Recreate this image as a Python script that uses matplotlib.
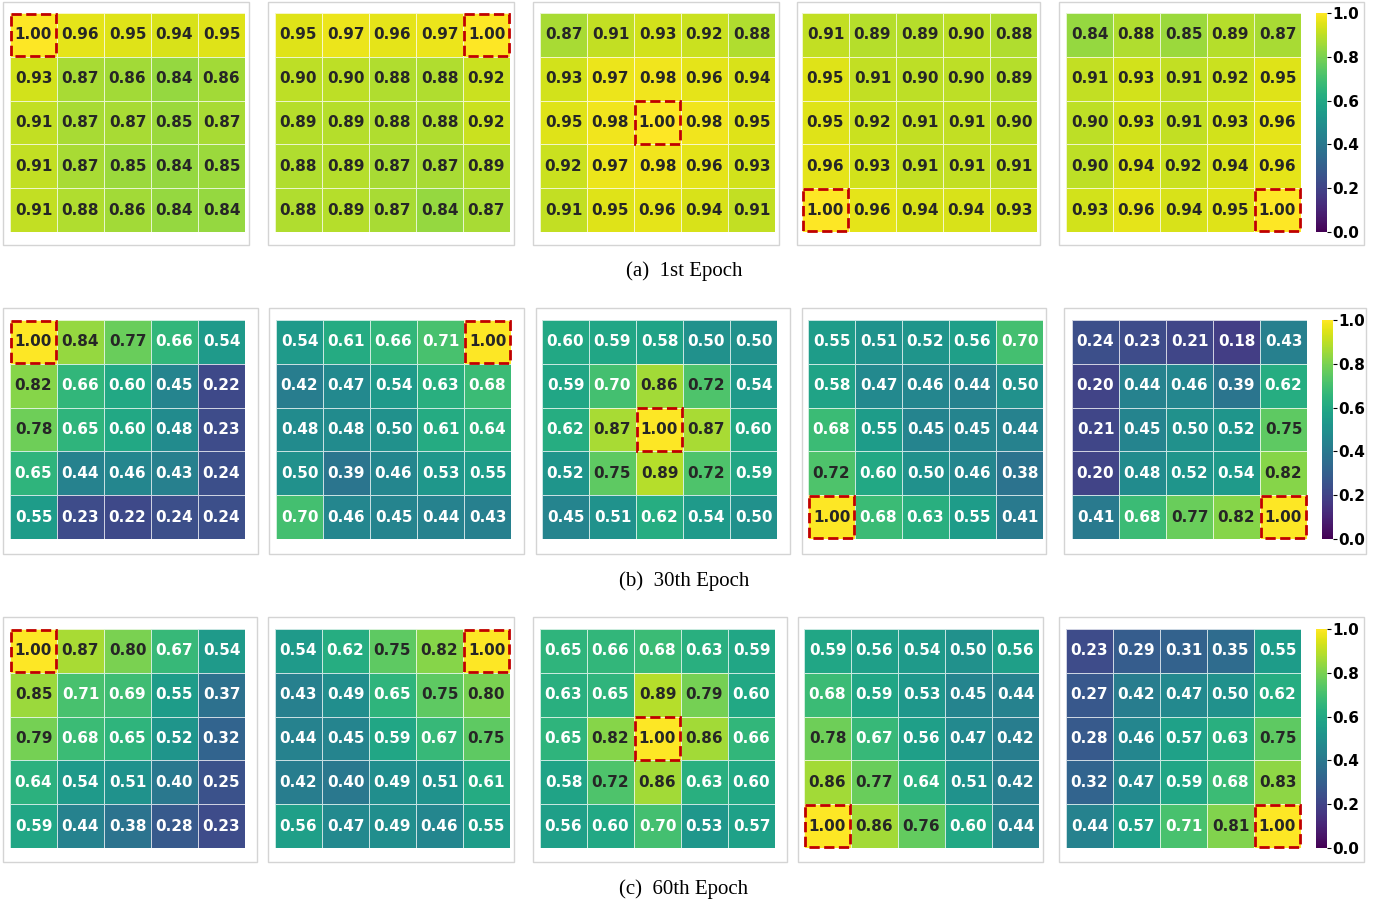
import matplotlib
matplotlib.use("Agg")
import matplotlib.pyplot as plt
import matplotlib.patches as mpatches
import numpy as np
import seaborn as sns

# similarity maps, 5 per epoch, 5x5 each
epoch1 = [
    [[1.00, 0.96, 0.95, 0.94, 0.95],
     [0.93, 0.87, 0.86, 0.84, 0.86],
     [0.91, 0.87, 0.87, 0.85, 0.87],
     [0.91, 0.87, 0.85, 0.84, 0.85],
     [0.91, 0.88, 0.86, 0.84, 0.84]],
    [[0.95, 0.97, 0.96, 0.97, 1.00],
     [0.90, 0.90, 0.88, 0.88, 0.92],
     [0.89, 0.89, 0.88, 0.88, 0.92],
     [0.88, 0.89, 0.87, 0.87, 0.89],
     [0.88, 0.89, 0.87, 0.84, 0.87]],
    [[0.87, 0.91, 0.93, 0.92, 0.88],
     [0.93, 0.97, 0.98, 0.96, 0.94],
     [0.95, 0.98, 1.00, 0.98, 0.95],
     [0.92, 0.97, 0.98, 0.96, 0.93],
     [0.91, 0.95, 0.96, 0.94, 0.91]],
    [[0.91, 0.89, 0.89, 0.90, 0.88],
     [0.95, 0.91, 0.90, 0.90, 0.89],
     [0.95, 0.92, 0.91, 0.91, 0.90],
     [0.96, 0.93, 0.91, 0.91, 0.91],
     [1.00, 0.96, 0.94, 0.94, 0.93]],
    [[0.84, 0.88, 0.85, 0.89, 0.87],
     [0.91, 0.93, 0.91, 0.92, 0.95],
     [0.90, 0.93, 0.91, 0.93, 0.96],
     [0.90, 0.94, 0.92, 0.94, 0.96],
     [0.93, 0.96, 0.94, 0.95, 1.00]],
]

epoch30 = [
    [[1.00, 0.84, 0.77, 0.66, 0.54],
     [0.82, 0.66, 0.60, 0.45, 0.22],
     [0.78, 0.65, 0.60, 0.48, 0.23],
     [0.65, 0.44, 0.46, 0.43, 0.24],
     [0.55, 0.23, 0.22, 0.24, 0.24]],
    [[0.54, 0.61, 0.66, 0.71, 1.00],
     [0.42, 0.47, 0.54, 0.63, 0.68],
     [0.48, 0.48, 0.50, 0.61, 0.64],
     [0.50, 0.39, 0.46, 0.53, 0.55],
     [0.70, 0.46, 0.45, 0.44, 0.43]],
    [[0.60, 0.59, 0.58, 0.50, 0.50],
     [0.59, 0.70, 0.86, 0.72, 0.54],
     [0.62, 0.87, 1.00, 0.87, 0.60],
     [0.52, 0.75, 0.89, 0.72, 0.59],
     [0.45, 0.51, 0.62, 0.54, 0.50]],
    [[0.55, 0.51, 0.52, 0.56, 0.70],
     [0.58, 0.47, 0.46, 0.44, 0.50],
     [0.68, 0.55, 0.45, 0.45, 0.44],
     [0.72, 0.60, 0.50, 0.46, 0.38],
     [1.00, 0.68, 0.63, 0.55, 0.41]],
    [[0.24, 0.23, 0.21, 0.18, 0.43],
     [0.20, 0.44, 0.46, 0.39, 0.62],
     [0.21, 0.45, 0.50, 0.52, 0.75],
     [0.20, 0.48, 0.52, 0.54, 0.82],
     [0.41, 0.68, 0.77, 0.82, 1.00]],
]

epoch60 = [
    [[1.00, 0.87, 0.80, 0.67, 0.54],
     [0.85, 0.71, 0.69, 0.55, 0.37],
     [0.79, 0.68, 0.65, 0.52, 0.32],
     [0.64, 0.54, 0.51, 0.40, 0.25],
     [0.59, 0.44, 0.38, 0.28, 0.23]],
    [[0.54, 0.62, 0.75, 0.82, 1.00],
     [0.43, 0.49, 0.65, 0.75, 0.80],
     [0.44, 0.45, 0.59, 0.67, 0.75],
     [0.42, 0.40, 0.49, 0.51, 0.61],
     [0.56, 0.47, 0.49, 0.46, 0.55]],
    [[0.65, 0.66, 0.68, 0.63, 0.59],
     [0.63, 0.65, 0.89, 0.79, 0.60],
     [0.65, 0.82, 1.00, 0.86, 0.66],
     [0.58, 0.72, 0.86, 0.63, 0.60],
     [0.56, 0.60, 0.70, 0.53, 0.57]],
    [[0.59, 0.56, 0.54, 0.50, 0.56],
     [0.68, 0.59, 0.53, 0.45, 0.44],
     [0.78, 0.67, 0.56, 0.47, 0.42],
     [0.86, 0.77, 0.64, 0.51, 0.42],
     [1.00, 0.86, 0.76, 0.60, 0.44]],
    [[0.23, 0.29, 0.31, 0.35, 0.55],
     [0.27, 0.42, 0.47, 0.50, 0.62],
     [0.28, 0.46, 0.57, 0.63, 0.75],
     [0.32, 0.47, 0.59, 0.68, 0.83],
     [0.44, 0.57, 0.71, 0.81, 1.00]],
]

# highlighted (row, col) cell per map
highlight = [(0, 0), (0, 4), (2, 2), (4, 0), (4, 4)]
captions = ["(a)  1st Epoch", "(b)  30th Epoch", "(c)  60th Epoch"]
cbar_ticks = [0.0, 0.2, 0.4, 0.6, 0.8, 1.0]

plt.rcParams["font.family"] = ["DejaVu Sans"]
plt.rcParams["font.weight"] = "bold"
plt.rcParams["ytick.labelsize"] = 11

W, H = 1393, 902
fig = plt.figure(figsize=(W / 100, H / 100), dpi=100)


def px_axes(x, y, w, h):
    return fig.add_axes([x / W, 1 - (y + h) / H, w / W, h / H])


def px_frame(x0, x1, y0, y1):
    rect = mpatches.Rectangle((x0 / W, 1 - y1 / H), (x1 - x0) / W, (y1 - y0) / H,
                              transform=fig.transFigure, fill=False,
                              edgecolor="#d4d4d4", linewidth=1.0, zorder=-5)
    fig.add_artist(rect)


# layout in pixels, per row
rows = [
    dict(data=epoch1, y=13, xs=[10, 275, 540, 802, 1066], cbx=1316,
         frames=[(3, 249), (268, 514), (533, 779), (797, 1040), (1059, 1364)],
         fy=(2, 245), cap_y=271),
    dict(data=epoch30, y=320, xs=[10, 276, 542, 808, 1072], cbx=1322,
         frames=[(3, 258), (269, 524), (536, 790), (802, 1046), (1064, 1366)],
         fy=(308, 554), cap_y=581),
    dict(data=epoch60, y=629, xs=[10, 275, 540, 804, 1066], cbx=1316,
         frames=[(3, 257), (268, 514), (533, 787), (798, 1043), (1059, 1364)],
         fy=(617, 862), cap_y=889),
]
cell_w, cell_h = 235, 219

for r, row in enumerate(rows):
    for (fx0, fx1) in row["frames"]:
        px_frame(fx0, fx1, row["fy"][0], row["fy"][1])
    for k, mat in enumerate(row["data"]):
        ax = px_axes(row["xs"][k], row["y"], cell_w, cell_h)
        sns.heatmap(np.array(mat), ax=ax, cmap="viridis", vmin=0, vmax=1,
                    annot=True, fmt=".2f", cbar=False,
                    linewidths=0.5, linecolor=(1, 1, 1, 0.75),
                    annot_kws={"fontsize": 11, "fontweight": "bold"})
        ax.set_xticks([])
        ax.set_yticks([])
        hr, hc = highlight[k]
        ax.add_patch(mpatches.Rectangle((hc + 0.02, hr + 0.02), 0.96, 0.96,
                                        fill=False, edgecolor="#c00000",
                                        linestyle="--", linewidth=2.0,
                                        clip_on=False, zorder=5))

    cax = px_axes(row["cbx"], row["y"], 11, cell_h)
    sm = plt.cm.ScalarMappable(cmap="viridis", norm=plt.Normalize(0, 1))
    cb = fig.colorbar(sm, cax=cax, ticks=cbar_ticks, format="%.1f")
    cb.outline.set_visible(False)
    cb.ax.tick_params(length=3, width=0.8, pad=1)

    fig.text(684 / W, 1 - row["cap_y"] / H, captions[r], ha="center", va="center",
             fontsize=15, fontweight="normal", family="Liberation Serif")

fig.savefig("out.png", dpi=100)
